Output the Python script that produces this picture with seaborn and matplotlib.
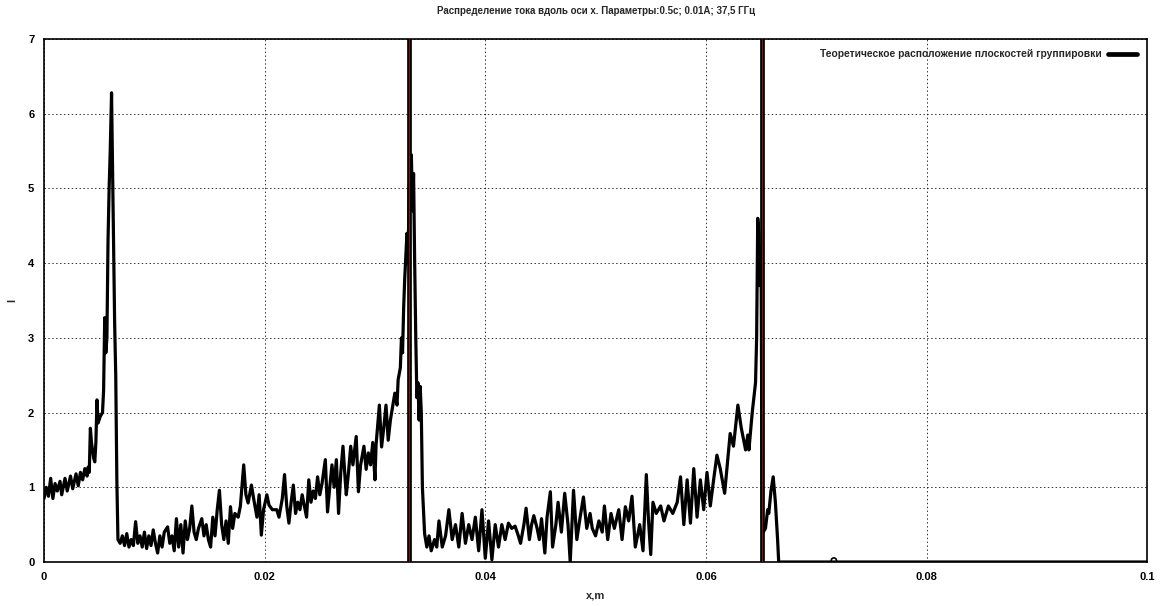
import matplotlib
matplotlib.use("Agg")
import matplotlib.pyplot as plt
import seaborn as sns
import pandas as pd

# ---- data ----
x_pos = [
    0.0000, 0.0002, 0.0004, 0.0006, 0.0008, 0.0010, 0.0012, 0.00145, 0.0016, 0.0019,
    0.0021, 0.0024, 0.0026, 0.0029, 0.0031, 0.0033, 0.0035, 0.0037, 0.0039, 0.0040,
    0.0041, 0.0042, 0.0043, 0.0045, 0.0046, 0.0047, 0.0048, 0.0049, 0.0051, 0.0053,
    0.0054, 0.0055, 0.0056, 0.0057, 0.0058, 0.0059, 0.0060, 0.00612, 0.0062, 0.0063,
    0.0064, 0.0065, 0.0066, 0.0067,
    0.0069, 0.0071, 0.0073, 0.0075, 0.0077, 0.0079, 0.0081, 0.0083, 0.0085, 0.0087,
    0.0089, 0.0091, 0.0093, 0.0095, 0.0097, 0.0099, 0.0101, 0.0103, 0.0105, 0.0107,
    0.0109, 0.0112, 0.0114, 0.0116, 0.0118, 0.0120, 0.0122, 0.0124, 0.0126, 0.0128,
    0.0130, 0.0132, 0.0134, 0.0136, 0.0138, 0.0140, 0.0143, 0.0145, 0.0147, 0.0149,
    0.0151, 0.0153, 0.0155, 0.0157, 0.0159, 0.0161, 0.0163, 0.0165, 0.0167, 0.0169,
    0.0171, 0.0173, 0.0176, 0.0178, 0.0181, 0.0183, 0.0185, 0.0188, 0.0190, 0.0193,
    0.0195, 0.0197, 0.0199, 0.0202, 0.0204, 0.0207,
    0.0211, 0.0213, 0.0216, 0.0218, 0.0220, 0.0222, 0.0224, 0.0226, 0.0228, 0.0230,
    0.0232, 0.0234, 0.0236, 0.0238, 0.0240, 0.0242, 0.0244, 0.0246, 0.0248, 0.0250,
    0.0252, 0.0255, 0.0257, 0.0259, 0.0261, 0.0263, 0.0265, 0.0267, 0.0269, 0.0271,
    0.0273, 0.0274, 0.0276, 0.0278, 0.0280, 0.0283, 0.0285, 0.0287, 0.0290, 0.0292,
    0.0294, 0.0296, 0.0298, 0.0300, 0.0301, 0.0304, 0.0306, 0.0308, 0.0310, 0.0312,
    0.0314, 0.0316, 0.0318, 0.0320, 0.0321, 0.0323, 0.0324, 0.0325, 0.0326, 0.0327,
    0.0328, 0.0329, 0.0330, 0.0331, 0.0333, 0.0334, 0.0335, 0.0336, 0.0337, 0.0338,
    0.0339, 0.0340, 0.0341, 0.0342, 0.0343, 0.0345,
    0.0347, 0.0349, 0.0351, 0.0354, 0.0356, 0.0358, 0.0361, 0.0364, 0.0367, 0.0370,
    0.0373, 0.0376, 0.0379, 0.0382, 0.0385, 0.0388, 0.0391, 0.0394, 0.0397, 0.0400,
    0.0403, 0.0406, 0.0409, 0.0412, 0.0415, 0.0418, 0.0421, 0.0424, 0.0427, 0.0430,
    0.0432, 0.0435, 0.0437, 0.0440, 0.0442, 0.0444, 0.0447, 0.0449, 0.0451, 0.0454,
    0.0456, 0.0459, 0.0461, 0.0464, 0.0466, 0.0469, 0.0472, 0.0475, 0.0477, 0.0480,
    0.0483, 0.0486, 0.0489, 0.0492, 0.0495, 0.0497,
    0.0500, 0.0503, 0.0506, 0.0508, 0.0511, 0.0514, 0.0517, 0.0521, 0.0524, 0.0527,
    0.0530, 0.0533, 0.0536, 0.0540, 0.0543, 0.0546, 0.0548, 0.0550, 0.0552, 0.0555,
    0.0559, 0.0562, 0.0566, 0.0570, 0.0574, 0.0577, 0.0580, 0.0583, 0.0586, 0.0589,
    0.0592, 0.0595, 0.0598, 0.0601, 0.0604, 0.0607, 0.0610, 0.0613, 0.0617, 0.0622,
    0.0625, 0.0629, 0.0632, 0.0636, 0.0638, 0.0639, 0.0642, 0.0645, 0.0646, 0.0647,
    0.0648, 0.0649, 0.0650, 0.06505, 0.0651, 0.0652, 0.0654, 0.0656, 0.0657, 0.0659,
    0.0661, 0.0663, 0.0665, 0.0666, 0.1000,
]
current = [
    0.85, 1.00, 0.88, 1.12, 0.85, 1.05, 0.95, 1.08, 0.90, 1.12,
    0.95, 1.15, 0.98, 1.18, 1.02, 1.20, 1.10, 1.25, 1.15, 1.27,
    1.20, 1.79, 1.60, 1.39, 1.34, 1.60, 2.17, 1.86, 1.95, 2.00,
    2.30, 3.27, 2.80, 3.00, 4.30, 5.00, 5.50, 6.28, 5.40, 4.30,
    3.20, 2.50, 1.10, 0.30,
    0.25, 0.35, 0.22, 0.38, 0.20, 0.30, 0.22, 0.54, 0.25, 0.35,
    0.20, 0.40, 0.18, 0.35, 0.22, 0.43, 0.25, 0.12, 0.35, 0.20,
    0.40, 0.47, 0.25, 0.35, 0.15, 0.58, 0.20, 0.50, 0.12, 0.55,
    0.30, 0.45, 0.75, 0.40, 0.30, 0.45, 0.58, 0.35, 0.50, 0.30,
    0.20, 0.60, 0.35, 0.70, 0.96, 0.50, 0.30, 0.55, 0.25, 0.74,
    0.45, 0.65, 0.60, 0.75, 1.30, 0.90, 0.79, 1.03, 0.85, 0.60,
    0.90, 0.36, 0.70, 0.90, 0.76, 0.70,
    0.70, 0.60, 0.85, 1.17, 0.75, 0.52, 0.80, 1.03, 0.65, 0.80,
    0.70, 0.90, 0.75, 0.60, 1.10, 0.80, 0.95, 0.85, 1.14, 0.90,
    1.05, 1.37, 0.67, 1.00, 1.30, 1.00, 1.37, 0.65, 1.20, 1.55,
    1.10, 0.90, 1.20, 1.55, 1.30, 1.68, 0.94, 1.30, 1.55, 1.24,
    1.46, 1.30, 1.60, 1.10, 1.57, 2.10, 1.54, 1.80, 2.10, 1.63,
    1.90, 2.08, 2.26, 2.10, 2.44, 2.60, 3.00, 2.80, 3.40, 3.80,
    4.10, 4.40, 4.00, 5.00, 5.45, 4.70, 5.20, 4.00, 3.00, 2.20,
    2.40, 1.90, 2.35, 2.00, 1.00, 0.38,
    0.20, 0.35, 0.15, 0.30, 0.20, 0.55, 0.20, 0.35, 0.70, 0.30,
    0.50, 0.20, 0.65, 0.25, 0.50, 0.30, 0.60, 0.15, 0.70, 0.05,
    0.55, 0.03, 0.50, 0.20, 0.50, 0.30, 0.52, 0.45, 0.48, 0.35,
    0.25, 0.50, 0.72, 0.30, 0.50, 0.62, 0.45, 0.30, 0.58, 0.12,
    0.60, 0.94, 0.20, 0.50, 0.80, 0.40, 0.92, 0.50, 0.00, 0.96,
    0.30, 0.60, 0.87, 0.45, 0.65, 0.45,
    0.35, 0.55, 0.40, 0.75, 0.30, 0.65, 0.45, 0.70, 0.30, 0.74,
    0.55, 0.88, 0.20, 0.50, 0.15, 1.17, 0.55, 0.10, 0.80, 0.65,
    0.75, 0.55, 0.75, 0.65, 0.80, 1.14, 0.50, 1.10, 0.52, 1.25,
    0.60, 1.10, 0.70, 1.20, 0.75, 1.10, 1.43, 1.25, 0.92, 1.72,
    1.55, 2.10, 1.80, 1.50, 1.70, 1.50, 2.00, 2.40, 3.00, 4.60,
    4.40, 3.70, 4.20, 2.50, 0.60, 0.40, 0.45, 0.70, 0.65, 0.95,
    1.14, 0.80, 0.30, 0.00, 0.00,
]
planes = [0.0331, 0.0651]
stray_x = [0.0716]
stray_y = [0.02]

title = "Распределение тока вдоль оси x. Параметры:0.5c; 0.01A; 37,5 ГГц"
legend_label = "Теоретическое расположение плоскостей группировки"
x_label = "x,m"
y_label = "I"
x_ticks = [0, 0.02, 0.04, 0.06, 0.08, 0.1]
x_tick_labels = ["0", "0.02", "0.04", "0.06", "0.08", "0.1"]
y_ticks = [0, 1, 2, 3, 4, 5, 6, 7]

# ---- style ----
sns.set_style("white")
plt.rcParams["font.family"] = ["Liberation Sans", "DejaVu Sans"]
plt.rcParams["font.weight"] = "bold"

df = pd.DataFrame({"x": x_pos, "I": current})

fig = plt.figure(figsize=(11.62, 6.06), dpi=100)
ax = fig.add_axes([0.0379, 0.0726, 0.9493, 0.863])

sns.lineplot(data=df, x="x", y="I", sort=False, color="black", linewidth=2.3,
             ax=ax, zorder=3)

for i, p in enumerate(planes):
    ax.axvline(p, color="black", linewidth=3.4, zorder=4,
               label=legend_label if i == 0 else None)
    ax.axvline(p, color="#9a1c14", linewidth=0.6, zorder=5)

ax.scatter(stray_x, stray_y, s=14, facecolors="none", edgecolors="black",
           linewidths=1.2, zorder=6)

ax.set_xlim(0, 0.1)
ax.set_ylim(0, 7)
ax.set_xticks(x_ticks)
ax.set_xticklabels(x_tick_labels)
ax.set_yticks(y_ticks)
ax.tick_params(axis="both", direction="in", length=4, width=1, labelsize=8,
               pad=7, colors="black")
for lbl in ax.get_xticklabels() + ax.get_yticklabels():
    lbl.set_fontweight("bold")

ax.grid(True, which="major", linestyle=(0, (1.5, 2.5)), color="black",
        linewidth=0.7, alpha=0.8, zorder=1)
for s in ax.spines.values():
    s.set_visible(True)
    s.set_color("black")
    s.set_linewidth(1.2)

ax.set_title(title, fontsize=7, fontweight="bold", pad=18)
ax.set_xlabel(x_label, fontsize=8, fontweight="bold", labelpad=6)
ax.set_ylabel(y_label, fontsize=8, fontweight="bold", labelpad=8)

leg = ax.legend(loc="upper right", frameon=False, fontsize=7.4, markerfirst=False,
                handlelength=2.8, borderaxespad=0.6, handletextpad=0.6)
for t in leg.get_texts():
    t.set_fontweight("bold")

fig.savefig("out.png", dpi=100, facecolor="white")
